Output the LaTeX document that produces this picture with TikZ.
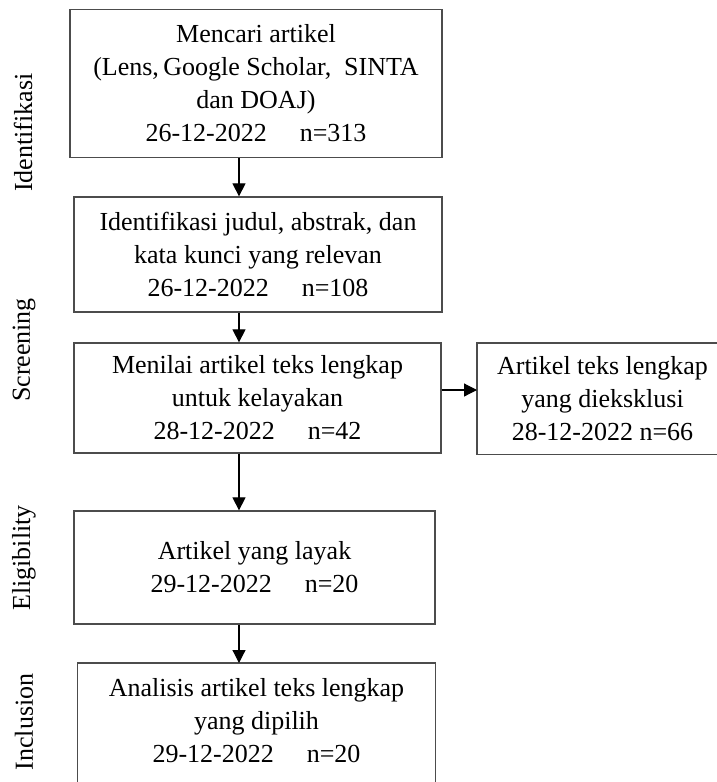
\documentclass[tikz,border=0pt]{standalone}
\usepackage{fontspec}
\setmainfont{Liberation Serif}
\usetikzlibrary{arrows.meta,positioning}
\begin{document}
\begin{tikzpicture}[x=1pt,y=-1pt,
  every node/.style={font=\fontsize{26}{33}\selectfont, align=center, inner sep=0pt},
  boxn/.style={draw=black!70, line width=1.3pt, rectangle},
  boxline/.style={draw=black!70, line width=1.3pt},
  arr/.style={draw=black, line width=1.2pt, -{Triangle[width=13pt,length=13pt]}},
  sidelab/.style={rotate=90}
]
\useasboundingbox (0,0) rectangle (717,782);
\fill[white] (0,0) rectangle (717,782);

\newcommand{\gapn}{\hspace{33pt}}

\node[boxn, minimum width=372pt, minimum height=148pt] (b1) at (256,83.5)
  {Mencari artikel\\(Lens,\,Google Scholar,\ \ SINTA\\dan DOAJ)\\26-12-2022\gapn n=313};
\node[boxn, minimum width=368pt, minimum height=115pt] (b2) at (258,254.5)
  {Identifikasi judul, abstrak, dan\\kata kunci yang relevan\\26-12-2022\gapn n=108};
\node[boxn, minimum width=367pt, minimum height=110pt] (b3) at (257.5,398)
  {Menilai artikel teks lengkap\\untuk kelayakan\\28-12-2022\gapn n=42};
\node[minimum width=290pt, minimum height=111pt, anchor=north west] (bx) at (477,343) {};
\draw[boxline] (bx.north east) -- (bx.north west) -- (bx.south west) -- (bx.south east);
\node (bxt) at (602.5,399)
  {Artikel teks lengkap\\yang dieksklusi\\28-12-2022 n=66};
\node[boxn, minimum width=361pt, minimum height=113pt] (b4) at (254.5,567.5)
  {Artikel yang layak\\29-12-2022\gapn n=20};
\node[minimum width=357pt, minimum height=130pt, anchor=north] (b5) at (256.5,663) {};
\draw[boxline] (b5.south west) -- (b5.north west) -- (b5.north east) -- (b5.south east);
\node (b5t) at (256.5,720.5)
  {Analisis artikel teks lengkap\\yang dipilih\\29-12-2022\gapn n=20};

\node[sidelab] (l1) at (23,132.5) {Identifikasi};
\node[sidelab] (l2) at (24,350) {Screening};
\node[sidelab] (l3) at (24,558) {Eligibility};
\node[sidelab] (l4) at (24,722) {Inclusion};

\coordinate (ax) at (239,0);
\coordinate (ay) at (0,390);
\draw[arr] (b1.south -| ax) -- (b2.north -| ax);
\draw[arr] (b2.south -| ax) -- (b3.north -| ax);
\draw[arr] (b3.east |- ay) -- (bx.west |- ay);
\draw[arr] (b3.south -| ax) -- (b4.north -| ax);
\draw[arr] (b4.south -| ax) -- (b5.north -| ax);
\end{tikzpicture}
\end{document}
